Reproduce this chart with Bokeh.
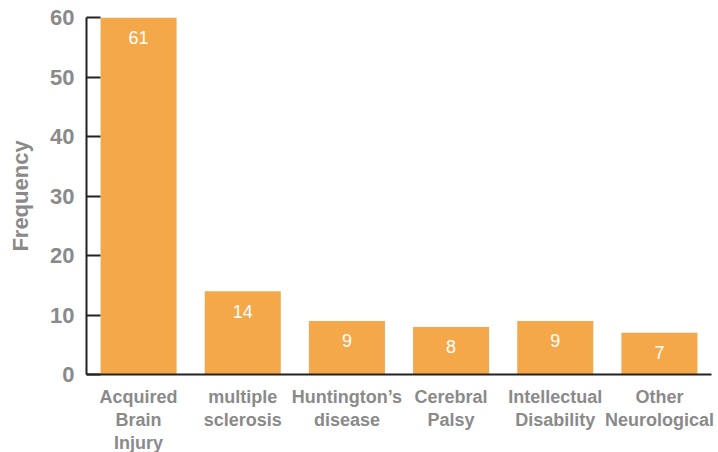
from bokeh.plotting import figure
from bokeh.models import ColumnDataSource, Range1d, FixedTicker, LinearAxis
from bokeh.core.properties import value
from bokeh.embed import file_html
from bokeh.resources import INLINE

categories = ["Acquired Brain Injury", "multiple sclerosis", "Huntington's disease",
              "Cerebral Palsy", "Intellectual Disability", "Other Neurological"]
label_line1 = ["Acquired", "multiple", "Huntington\u2019s", "Cerebral", "Intellectual", "Other"]
label_line2 = ["Brain", "sclerosis", "disease", "Palsy", "Disability", "Neurological"]
label_line3 = ["Injury", "", "", "", "", ""]
frequency = [61, 14, 9, 8, 9, 7]
y_ticks = [0, 10, 20, 30, 40, 50, 60]
y_max = 60

pos = list(range(len(categories)))
src = ColumnDataSource(dict(
    x=pos,
    cat=categories,
    freq=frequency,
    label_y=[min(v, y_max) for v in frequency],
    txt=[str(v) for v in frequency],
))

p = figure(width=718, height=452, x_range=Range1d(-0.5, len(categories) - 0.5),
           y_range=Range1d(0, y_max), output_backend="svg", toolbar_location=None,
           min_border_left=86, min_border_right=7, min_border_top=17, min_border_bottom=0)
p.frame_width = 625
p.frame_height = 357

p.vbar(x="x", top="freq", width=0.73, source=src, color="#F5A84A", line_color=None)
p.text(x="x", y="label_y", text="txt", source=src, text_color="white",
       text_font=value("Liberation Sans"), text_font_size="18px",
       text_align="center", text_baseline="middle", y_offset=20)

p.outline_line_color = None
p.grid.grid_line_color = None
p.background_fill_color = "white"
p.border_fill_color = "white"

p.yaxis.ticker = FixedTicker(ticks=y_ticks)
p.yaxis.axis_label = "Frequency"
p.yaxis.axis_label_text_font = "Liberation Sans"
p.yaxis.axis_label_text_font_style = "bold"
p.yaxis.axis_label_text_font_size = "22px"
p.yaxis.axis_label_text_color = "#8a8a8a"
p.yaxis.axis_label_standoff = 14
p.yaxis.major_label_text_font = "Liberation Sans"
p.yaxis.major_label_text_font_style = "bold"
p.yaxis.major_label_text_font_size = "22px"
p.yaxis.major_label_text_color = "#8a8a8a"
p.yaxis.major_label_standoff = 12
p.yaxis.major_tick_in = 14
p.yaxis.major_tick_out = 0
p.yaxis.minor_tick_line_color = None
p.yaxis.major_tick_line_width = 2
p.yaxis.major_tick_line_color = "#222222"
p.yaxis.axis_line_color = "#222222"
p.yaxis.axis_line_width = 2


def style_x(ax, lines, standoff):
    ax.ticker = FixedTicker(ticks=pos, minor_ticks=[])
    ax.major_label_overrides = {i: t for i, t in zip(pos, lines)}
    ax.major_label_text_font = "Liberation Sans"
    ax.major_label_text_font_style = "bold"
    ax.major_label_text_font_size = "18px"
    ax.major_label_text_color = "#8a8a8a"
    ax.major_label_standoff = standoff
    ax.major_label_orientation = "horizontal"
    ax.major_tick_line_color = None
    ax.major_tick_out = 0
    ax.major_tick_in = 0
    ax.minor_tick_line_color = None


xa = p.xaxis[0]
style_x(xa, label_line1, 12)
xa.axis_line_color = "#222222"
xa.axis_line_width = 2

for lines in (label_line2, label_line3):
    ax2 = LinearAxis()
    style_x(ax2, lines, 0)
    ax2.axis_line_color = None
    p.add_layout(ax2, "below")

open("out.html", "w").write(file_html(p, INLINE))
